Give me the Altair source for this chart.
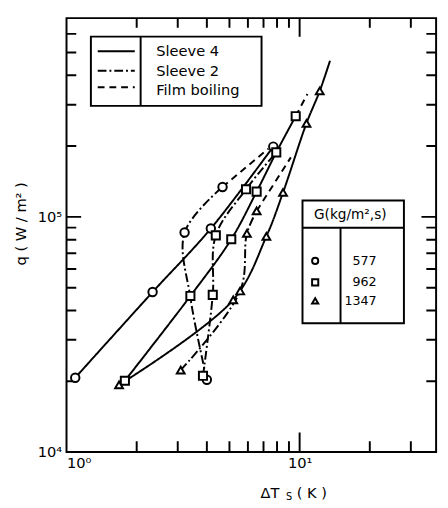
import altair as alt
import pandas as pd

# ---------------- data ----------------
# Sleeve 4 (solid lines)
s4_577_x = [1.09, 2.34, 4.16, 7.71]
s4_577_q = [2.07e4, 4.79e4, 8.92e4, 1.99e5]
s4_962_x = [1.78, 3.40, 5.09, 6.54, 7.94, 9.62]
s4_962_q = [2.01e4, 4.61e4, 8.03e4, 1.28e5, 1.88e5, 2.68e5]
s4_1347_x = [1.68, 5.19, 7.20, 8.49, 10.7, 12.2, 13.5]
s4_1347_q = [1.93e4, 4.44e4, 8.26e4, 1.27e5, 2.50e5, 3.43e5, 4.61e5]
# Sleeve 2 (dash-dot lines)
s2_577_x = [4.00, 3.40, 3.21, 4.67]
s2_577_q = [2.03e4, 4.53e4, 8.58e4, 1.34e5]
s2_962_x = [3.85, 4.24, 4.37, 5.89, 7.94]
s2_962_q = [2.11e4, 4.66e4, 8.34e4, 1.31e5, 1.88e5]
s2_1347_x = [3.09, 5.56, 5.94, 6.54]
s2_1347_q = [2.23e4, 4.84e4, 8.50e4, 1.06e5]
# Film boiling (dashed lines)
fb_577_x = [4.67, 7.35]
fb_577_q = [1.34e5, 1.95e5]
fb_962_x = [9.62, 10.8]
fb_962_q = [2.68e5, 3.33e5]
fb_1347_x = [6.54, 9.17]
fb_1347_q = [1.06e5, 1.79e5]

# measured points (markers)
m577_x = [1.09, 2.34, 3.21, 4.16, 4.67, 7.71, 4.00]
m577_q = [2.07e4, 4.79e4, 8.58e4, 8.92e4, 1.34e5, 1.99e5, 2.03e4]
m962_x = [1.78, 3.40, 4.37, 4.24, 5.09, 5.89, 6.54, 7.94, 9.62, 3.85]
m962_q = [2.01e4, 4.61e4, 8.34e4, 4.66e4, 8.03e4, 1.31e5, 1.28e5, 1.88e5, 2.68e5, 2.11e4]
m1347_x = [1.68, 3.09, 5.19, 5.56, 5.94, 6.54, 7.20, 8.49, 10.7, 12.2]
m1347_q = [1.93e4, 2.23e4, 4.44e4, 4.84e4, 8.50e4, 1.06e5, 8.26e4, 1.27e5, 2.50e5, 3.43e5]

G_labels = ["577", "962", "1347"]
G_shapes = ["circle", "square", "triangle-up"]
style_labels = ["Sleeve  4", "Sleeve  2", "Film boiling"]

x_minor = [2, 3, 4, 5, 6, 7, 8, 9, 20, 30]
x_major = [10]
y_minor = [2e4, 3e4, 4e4, 5e4, 6e4, 7e4, 8e4, 9e4, 2e5, 3e5, 4e5, 5e5, 6e5]
y_major = [1e5]

X_DOMAIN = [1, 38.5]
Y_DOMAIN = [1e4, 7.0e5]
W, H = 379, 445

# ---------------- build tables ----------------
rows = []
def add(name, style, xs_, qs_):
    for i, (a, b) in enumerate(zip(xs_, qs_)):
        rows.append({"series": name, "style": style, "order": i, "x": a, "q": b})

add("s4_577", style_labels[0], s4_577_x, s4_577_q)
add("s4_962", style_labels[0], s4_962_x, s4_962_q)
add("s4_1347", style_labels[0], s4_1347_x, s4_1347_q)
add("s2_577", style_labels[1], s2_577_x, s2_577_q)
add("s2_962", style_labels[1], s2_962_x, s2_962_q)
add("s2_1347", style_labels[1], s2_1347_x, s2_1347_q)
add("fb_577", style_labels[2], fb_577_x, fb_577_q)
add("fb_962", style_labels[2], fb_962_x, fb_962_q)
add("fb_1347", style_labels[2], fb_1347_x, fb_1347_q)

# inward axis ticks (frame decoration), drawn as short solid segments whose
# length in pixels is converted through the log scale ratio
rx = X_DOMAIN[1] / X_DOMAIN[0]
ry = Y_DOMAIN[1] / Y_DOMAIN[0]
def xtick(v, L, k):
    lo, hi = Y_DOMAIN
    add(f"tb{k}_{v}", style_labels[0], [v, v], [lo, lo * ry ** (L / H)])
    add(f"tt{k}_{v}", style_labels[0], [v, v], [hi, hi / ry ** ((L - 1) / H)])
def ytick(v, L, k):
    lo, hi = X_DOMAIN
    add(f"tl{k}_{v}", style_labels[0], [lo, lo * rx ** (L / W)], [v, v])
    add(f"tr{k}_{v}", style_labels[0], [hi, hi / rx ** (L / W)], [v, v])
for v in x_minor:
    xtick(v, 11, "m")
for v in x_major:
    xtick(v, 20, "M")
for v in y_minor:
    ytick(v, 10, "m")
for v in y_major:
    ytick(v, 15, "M")

lines_df = pd.DataFrame(rows)

mk = []
for g, xs_, qs_ in [("577", m577_x, m577_q), ("962", m962_x, m962_q), ("1347", m1347_x, m1347_q)]:
    for a, b in zip(xs_, qs_):
        mk.append({"G": g, "x": a, "q": b})
mk_df = pd.DataFrame(mk)

xs = alt.Scale(type="log", domain=X_DOMAIN, nice=False, zero=False)
ys = alt.Scale(type="log", domain=Y_DOMAIN, nice=False, zero=False)

FONT = "DejaVu Sans"
dash_scale = alt.Scale(domain=style_labels, range=[[1, 0], [9, 3, 2, 3], [7, 5]])
shape_scale = alt.Scale(domain=G_labels, range=G_shapes)
size_scale = alt.Scale(domain=G_labels, range=[75, 64, 95])

label_x_axis = alt.Axis(values=[1, 10],
                        labelExpr="datum.value >= 10 ? '10¹' : '10⁰'",
                        ticks=False, domain=False, grid=False, title=None,
                        labelFont=FONT, labelFontSize=15, labelColor="black", labelPadding=4)
label_y_axis = alt.Axis(values=[1e4, 1e5],
                        labelExpr="datum.value >= 1e5 ? '10⁵' : '10⁴'",
                        ticks=False, domain=False, grid=False, title=None,
                        labelFont=FONT, labelFontSize=15, labelColor="black", labelPadding=5)

lines = alt.Chart(lines_df).mark_line(color="black", strokeWidth=2,
                                      interpolate="catmull-rom").encode(
    x=alt.X("x:Q", scale=xs, axis=label_x_axis),
    y=alt.Y("q:Q", scale=ys, axis=label_y_axis),
    detail="series:N", order="order:Q",
    strokeDash=alt.StrokeDash("style:N", scale=dash_scale, legend=None),
)

markers = alt.Chart(mk_df).mark_point(filled=True, fill="white", stroke="black",
                                      strokeWidth=2, opacity=1).encode(
    x=alt.X("x:Q", scale=xs), y=alt.Y("q:Q", scale=ys),
    shape=alt.Shape("G:N", scale=shape_scale, legend=None),
    size=alt.Size("G:N", scale=size_scale, legend=None),
)

# legend boxes
def rect(x0, x1, y0, y1):
    return alt.Chart(pd.DataFrame({"a": [0]})).mark_rect(fill="white", stroke="black", strokeWidth=2).encode(
        x=alt.value(x0), x2=alt.value(x1), y=alt.value(y0), y2=alt.value(y1))

def rule(x0, x1, y0, y1, dash=None):
    kw = {"color": "black", "strokeWidth": 2}
    if dash is not None:
        kw["strokeDash"] = dash
    return alt.Chart(pd.DataFrame({"a": [0]})).mark_rule(**kw).encode(
        x=alt.value(x0), x2=alt.value(x1), y=alt.value(y0), y2=alt.value(y1))

def text(t, x, y, size=14, align="left", angle=0):
    kw = dict(text=t, font=FONT, fontSize=size, align=align, baseline="middle", color="black")
    if angle:
        kw["angle"] = angle
    return alt.Chart(pd.DataFrame({"a": [0]})).mark_text(**kw).encode(
        x=alt.value(x), y=alt.value(y))

def symbol(shape, x, y):
    return alt.Chart(pd.DataFrame({"a": [0]})).mark_point(
        shape=shape, filled=True, fill="white", stroke="black", strokeWidth=2, opacity=1, size=40
    ).encode(x=alt.value(x), y=alt.value(y))

leg1 = [
    rect(25, 200, 19, 90),
    rule(76, 76, 19, 90),
    rule(32, 70, 34, 34, [1, 0]),
    rule(32, 70, 54, 54, [9, 3, 2, 3]),
    rule(32, 70, 71, 71, [7, 5]),
    text(style_labels[0], 92, 34, 15),
    text(style_labels[1], 92, 54, 15),
    text(style_labels[2], 92, 74, 15),
]

leg_y = [249, 271, 290]
leg2 = [
    rect(242, 346, 187, 313),
    rule(242, 346, 215, 215),
    rule(281, 281, 215, 313),
    text("G(kg/m²,s)", 291, 202, 14, align="center"),
]
for g, shp, yy in zip(G_labels, G_shapes, leg_y):
    leg2.append(symbol(shp, 255, yy))
    leg2.append(text(g, 318, yy, 13, align="right"))

titles = [
    text("ΔT", 199, 487, 15),
    text("S", 225, 491, 10),
    text("( K )", 236, 487, 15),
    text("q ( W / m² )", -47, 211, 15, align="center", angle=270),
]

chart = alt.layer(lines, markers, *leg1, *leg2, *titles).properties(
    width=W, height=H,
    padding={"left": 6, "top": 0, "right": 0, "bottom": 0},
    background="white",
).configure_view(stroke="black", strokeWidth=2)

chart.save("out.html", embed_options={"renderer": "svg", "actions": False})
